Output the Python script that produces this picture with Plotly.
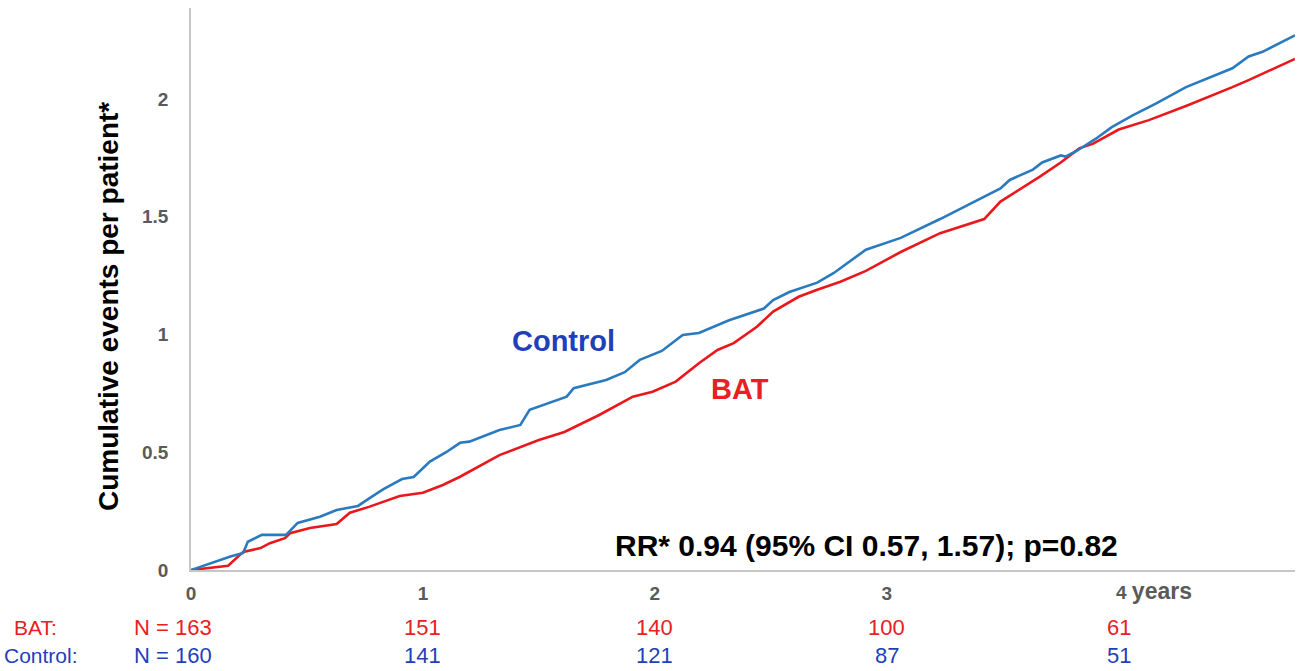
import plotly.graph_objects as go

# Cumulative events per patient over follow-up (years)
control_t = [0, 0.17, 0.225, 0.245, 0.305, 0.41, 0.46, 0.556, 0.628, 0.72, 0.77, 0.83, 0.91,
             0.96, 1.03, 1.10, 1.16, 1.20, 1.33, 1.42, 1.46, 1.57, 1.62, 1.65, 1.79, 1.87, 1.935,
             2.03, 2.12, 2.19, 2.32, 2.47, 2.51, 2.58, 2.70, 2.77, 2.91, 3.06, 3.23, 3.49, 3.53,
             3.63, 3.67, 3.75, 3.77, 3.82, 3.90, 3.97, 4.06, 4.16, 4.29, 4.49, 4.56, 4.62, 4.76]
control_y = [0, 0.057, 0.072, 0.12, 0.149, 0.149, 0.20, 0.226, 0.255, 0.272, 0.305, 0.343, 0.386,
             0.395, 0.46, 0.50, 0.54, 0.545, 0.594, 0.616, 0.68, 0.72, 0.736, 0.772, 0.807, 0.84, 0.892,
             0.93, 0.998, 1.006, 1.06, 1.11, 1.146, 1.18, 1.22, 1.26, 1.36, 1.41, 1.49, 1.62, 1.656,
             1.70, 1.73, 1.76, 1.755, 1.78, 1.83, 1.88, 1.93, 1.98, 2.05, 2.13, 2.18, 2.20, 2.27]

bat_t = [0, 0.16, 0.225, 0.30, 0.34, 0.405, 0.427, 0.513, 0.628, 0.685, 0.77, 0.90, 1.0,
         1.086, 1.16, 1.20, 1.33, 1.50, 1.61, 1.76, 1.905, 1.99, 2.09, 2.19, 2.27, 2.34,
         2.44, 2.51, 2.62, 2.70, 2.80, 2.91, 3.06, 3.23, 3.42, 3.49, 3.57, 3.66, 3.75,
         3.83, 3.89, 4.0, 4.13, 4.29, 4.49, 4.56, 4.76]
bat_y = [0, 0.018, 0.077, 0.093, 0.114, 0.135, 0.156, 0.178, 0.195, 0.243, 0.269, 0.314, 0.328,
         0.361, 0.396, 0.417, 0.488, 0.552, 0.586, 0.658, 0.736, 0.757, 0.80, 0.878, 0.934, 0.963,
         1.033, 1.097, 1.16, 1.19, 1.224, 1.27, 1.35, 1.43, 1.49, 1.564, 1.614, 1.67, 1.73,
         1.79, 1.81, 1.87, 1.91, 1.97, 2.05, 2.08, 2.17]

# Numbers at risk
risk_years = [0, 1, 2, 3, 4]
bat_at_risk = ["N = 163", "151", "140", "100", "61"]
control_at_risk = ["N = 160", "141", "121", "87", "51"]

x_ticks = [0, 1, 2, 3]
y_ticks = [0, 0.5, 1, 1.5, 2]
y_ticktext = ["0", "0.5", "1", "1.5", "2"]

LINE_BLUE = "#2a7abf"
LINE_RED = "#e8181c"
TXT_BLUE = "#1f3fbb"
TXT_RED = "#e8201f"
TICK_GRAY = "#5a5a5a"
FONT = "Liberation Sans, Arial, sans-serif"

# plot area in pixels
L, R, T, B = 191, 7, 8, 101
PW = 1302 - L - R
PH = 671 - T - B
X_MAX = 4.76


def px_x(px):
    return (px - L) / PW


def px_y(py):
    return (671 - B - py) / PH


fig = go.Figure()
fig.add_trace(go.Scatter(x=bat_t, y=bat_y, mode="lines", name="BAT",
                         line=dict(color=LINE_RED, width=2.6)))
fig.add_trace(go.Scatter(x=control_t, y=control_y, mode="lines", name="Control",
                         line=dict(color=LINE_BLUE, width=2.6)))

fig.update_layout(
    width=1302, height=671,
    margin=dict(l=L, r=R, t=T, b=B),
    paper_bgcolor="white", plot_bgcolor="white",
    showlegend=False,
    font=dict(family=FONT),
)
fig.update_xaxes(range=[0, X_MAX], tickvals=x_ticks, ticktext=[str(v) for v in x_ticks],
                 showgrid=False, zeroline=False, showline=True, linecolor="#c6c6c6", linewidth=1.5,
                 ticks="", ticklabelstandoff=5,
                 tickfont=dict(family=FONT, size=19, color=TICK_GRAY, weight="bold"))
fig.update_yaxes(range=[0, 2.386], tickvals=y_ticks, ticktext=y_ticktext,
                 showgrid=False, zeroline=False, showline=True, linecolor="#c6c6c6", linewidth=1.5,
                 ticks="", ticklabelstandoff=17,
                 tickfont=dict(family=FONT, size=19, color=TICK_GRAY, weight="bold"))

ann = []
# "4 years" label at the last tick
ann.append(dict(x=4, y=px_y(591), xref="x", yref="paper",
                text="<b>4</b> <span style='font-size:23px'><b>years</b></span>", showarrow=False,
                xanchor="left", yanchor="middle", xshift=-5,
                font=dict(family=FONT, size=19, color=TICK_GRAY)))
# Axis title
ann.append(dict(x=px_x(108), y=px_y(307), xref="paper", yref="paper", textangle=-90,
                text="<b>Cumulative events per patient*</b>", showarrow=False,
                xanchor="center", yanchor="middle",
                font=dict(family=FONT, size=28, color="black")))
# Series labels
ann.append(dict(x=1.606, y=0.972, xref="x", yref="y", text="<b>Control</b>", showarrow=False,
                font=dict(family=FONT, size=29, color=TXT_BLUE)))
ann.append(dict(x=2.369, y=0.769, xref="x", yref="y", text="<b>BAT</b>", showarrow=False,
                font=dict(family=FONT, size=29, color=TXT_RED)))
# Rate ratio
ann.append(dict(x=2.914, y=0.106, xref="x", yref="y",
                text="<b>RR* 0.94 (95% CI 0.57, 1.57); p=0.82</b>", showarrow=False,
                font=dict(family=FONT, size=30, color="black")))

# Numbers-at-risk table
ann.append(dict(x=px_x(12), y=px_y(627), xref="paper", yref="paper",
                text="BAT:", showarrow=False, xanchor="left", yanchor="middle",
                font=dict(family=FONT, size=21, color=TXT_RED)))
ann.append(dict(x=px_x(2), y=px_y(655), xref="paper", yref="paper",
                text="Control:", showarrow=False, xanchor="left", yanchor="middle",
                font=dict(family=FONT, size=21, color=TXT_BLUE)))
for i, yr in enumerate(risk_years):
    xpos = px_x(173) if yr == 0 else yr / X_MAX
    ann.append(dict(x=xpos, y=px_y(627), xref="paper", yref="paper", text=bat_at_risk[i],
                    showarrow=False, xanchor="center", yanchor="middle",
                    font=dict(family=FONT, size=22, color=TXT_RED)))
    ann.append(dict(x=xpos, y=px_y(655), xref="paper", yref="paper", text=control_at_risk[i],
                    showarrow=False, xanchor="center", yanchor="middle",
                    font=dict(family=FONT, size=22, color=TXT_BLUE)))

fig.update_layout(annotations=ann)
fig.write_html("out.html")
